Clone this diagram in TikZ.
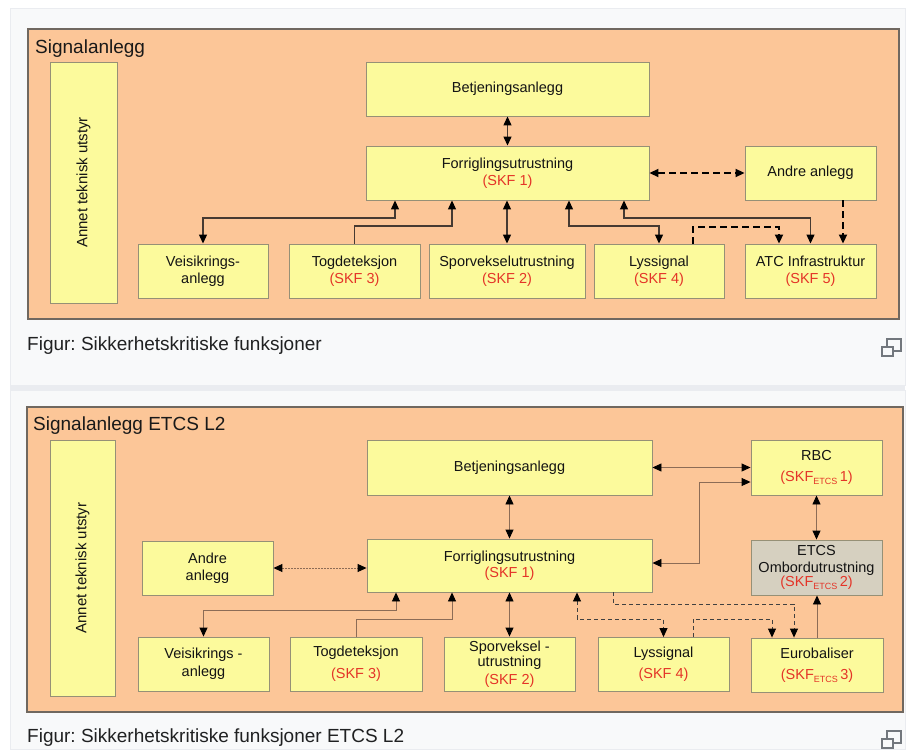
\documentclass[tikz,border=0pt]{standalone}
\usepackage{fontspec}
\setmainfont{Liberation Sans}
\usetikzlibrary{arrows.meta}
\frenchspacing

\definecolor{panelbg}{RGB}{248,249,250}
\definecolor{panelline}{RGB}{234,236,240}
\definecolor{orangefill}{RGB}{252,198,152}
\definecolor{frameline}{RGB}{112,104,96}
\definecolor{boxfill}{RGB}{252,250,156}
\definecolor{boxline}{RGB}{150,144,118}
\definecolor{greyfill}{RGB}{214,208,192}
\definecolor{skfred}{RGB}{228,52,40}
\definecolor{solidline}{RGB}{70,58,50}
\definecolor{thinline}{RGB}{140,108,86}
\definecolor{icongrey}{RGB}{114,119,125}
\definecolor{captext}{RGB}{32,33,34}

\newcommand{\skf}[1]{\textcolor{skfred}{(SKF #1)}}
\newcommand{\skfe}[1]{\textcolor{skfred}{(SKF\raisebox{-3pt}{\fontsize{9}{9}\selectfont ETCS}\,#1)}}

\tikzset{
  x=1pt, y=-1pt,
  >={Triangle[length=9pt,width=8pt,color=black]},
  frame/.style={draw=frameline, line width=1.2pt, fill=orangefill},
  box/.style={draw=boxline, line width=0.9pt, fill=boxfill, inner sep=0pt,
    align=center, text=black!92, font=\fontsize{14.5}{16}\selectfont},
  greybox/.style={box, fill=greyfill},
  title/.style={anchor=base west, inner sep=0pt, text=black!90,
    font=\fontsize{19}{22}\selectfont},
  caption/.style={anchor=base west, inner sep=0pt, text=captext,
    font=\fontsize{19}{22}\selectfont},
  link/.style={draw=solidline, line width=1.2pt},
  dlink/.style={draw=black, line width=1.8pt, dash pattern=on 7pt off 4pt},
  flink/.style={draw=thinline, line width=0.9pt},
  fdash/.style={draw=black!75, line width=0.9pt, dash pattern=on 4pt off 3pt},
  fdot/.style={draw=thinline, line width=1pt, dash pattern=on 1.5pt off 1.5pt},
  icon/.style={draw=icongrey, line width=1.6pt},
}

\begin{document}
\begin{tikzpicture}
\useasboundingbox (0,0) rectangle (912,749);
\fill[white] (0,0) rectangle (912,749);

% page panels
\filldraw[fill=panelbg, draw=panelline, line width=0.8pt] (10,8) rectangle (905,385);
\fill[panelline] (10,385) rectangle (905,390);
\filldraw[fill=panelbg, draw=panelline, line width=0.8pt] (10,390) rectangle (905,749);

% ================= Signalanlegg =================
\filldraw[frame] (28,29) rectangle (899,319);
\node[title] (title1) at (35,54) {Signalanlegg};

\node[box, rotate=90, minimum width=241pt, minimum height=67pt, font=\fontsize{15}{17}\selectfont]
  (annet1) at (83.5,182.5) {Annet teknisk utstyr};

\node[box, minimum width=283pt, minimum height=54pt] (betj1) at (507.5,89) {Betjeningsanlegg};
\node[box, minimum width=283pt, minimum height=54pt] (forr1) at (507.5,173)
  {Forriglingsutrustning\\[1.5pt]\skf{1}};
\node[box, minimum width=131pt, minimum height=54pt] (andre1) at (810.5,173) {Andre anlegg};

\node[box, minimum width=130pt, minimum height=54pt] (veis1) at (203,271) {Veisikrings-\\[1.5pt]anlegg};
\node[box, minimum width=131pt, minimum height=54pt] (tog1) at (354.5,271) {Togdeteksjon\\[1.5pt]\skf{3}};
\node[box, minimum width=156pt, minimum height=54pt] (spor1) at (507,271) {Sporvekselutrustning\\[1.5pt]\skf{2}};
\node[box, minimum width=130pt, minimum height=54pt] (lys1) at (659,271) {Lyssignal\\[1.5pt]\skf{4}};
\node[box, minimum width=131pt, minimum height=54pt] (atc1) at (810.5,271) {ATC Infrastruktur\\[1.5pt]\skf{5}};

\draw[link,<->] (betj1.south) -- (forr1.north);
\draw[dlink,<->] (forr1.east) -- (andre1.west);
\draw[link,<->] (forr1.south -| 395,0) -- (395,218) -| (veis1.north);
\draw[link,->] (tog1.north) |- (452,226) -- (forr1.south -| 452,0);
\draw[link,<->] (forr1.south -| spor1.north) -- (spor1.north);
\draw[link,<->] (forr1.south -| 569,0) -- (569,226) -| (lys1.north);
\draw[link,<->] (forr1.south -| 624,0) -- (624,218) -| (atc1.north);
\draw[dlink,->] (lys1.north -| 693,0) -- (693,227) -| (atc1.north -| 779,0);
\draw[dlink,->] (andre1.south -| 843,0) -- (atc1.north -| 843,0);

\node[caption] (cap1) at (27,350) {Figur: Sikkerhetskritiske funksjoner};
\draw[icon] (887,339) rectangle (901,351);
\filldraw[icon, fill=panelbg] (882,347) rectangle (893,356);

% ================= Signalanlegg ETCS L2 =================
\filldraw[frame] (27,407) rectangle (903,712);
\node[title] (title2) at (33,430) {Signalanlegg ETCS L2};

\node[box, rotate=90, minimum width=256pt, minimum height=65pt, font=\fontsize{15}{17}\selectfont]
  (annet2) at (82.5,568) {Annet teknisk utstyr};

\node[box, minimum width=285pt, minimum height=55pt] (betj2) at (509.5,467.5) {Betjeningsanlegg};
\node[box, minimum width=285pt, minimum height=53pt] (forr2) at (509.5,565.5)
  {Forriglingsutrustning\\\skf{1}};
\node[box, minimum width=131pt, minimum height=54pt] (andre2) at (207.5,568) {Andre\\[1pt]anlegg};
\node[box, minimum width=131pt, minimum height=55pt] (rbc2) at (816.5,467.5) {RBC\\[5pt]\skfe{1}};
\node[greybox, minimum width=131pt, minimum height=55pt] (etcs2) at (816.5,567.5)
  {ETCS\\[1pt]Ombordutrustning\\[-2.5pt]\skfe{2}};

\node[box, minimum width=131pt, minimum height=54pt] (veis2) at (203.5,664) {Veisikrings -\\[2pt]anlegg};
\node[box, minimum width=132pt, minimum height=54pt] (tog2) at (356,664) {Togdeteksjon\\[6pt]\skf{3}};
\node[box, minimum width=131pt, minimum height=54pt] (spor2) at (509.5,664)
  {Sporveksel -\\[-1pt]utrustning\\[2pt]\skf{2}};
\node[box, minimum width=131pt, minimum height=54pt] (lys2) at (663.5,664.5) {Lyssignal\\[5pt]\skf{4}};
\node[box, minimum width=132pt, minimum height=54pt] (euro2) at (817,665) {Eurobaliser\\[5pt]\skfe{3}};

\draw[flink,<->] (betj2.south) -- (forr2.north);
\draw[fdot,<->] (andre2.east) -- (forr2.west |- andre2.east);
\draw[flink,<->] (forr2.south -| 396,0) -- (396,610) -| (veis2.north);
\draw[flink,->] (tog2.north) |- (452,619) -- (forr2.south -| 452,0);
\draw[flink,<->] (forr2.south) -- (spor2.north);
\draw[flink,<->] (betj2.east) -- (rbc2.west);
\draw[flink,<->] (forr2.east |- 0,563) -- (699,563) |- (rbc2.west |- 0,482);
\draw[flink,<->] (rbc2.south) -- (etcs2.north);
\draw[flink,->] (euro2.north) -- (etcs2.south -| euro2.north);
\draw[fdash,<->] (forr2.south -| 577,0) -- (577,619) -| (lys2.north);
\draw[fdash,->] (lys2.north -| 693,0) -- (693,619) -| (euro2.north -| 772,0);
\draw[fdash,->] (forr2.south -| 613,0) -- (613,604) -| (euro2.north -| 794,0);

\node[caption] (cap2) at (27,742) {Figur: Sikkerhetskritiske funksjoner ETCS L2};
\draw[icon] (887,731) rectangle (901,743);
\filldraw[icon, fill=panelbg] (882,739) rectangle (893,748);
\end{tikzpicture}
\end{document}
